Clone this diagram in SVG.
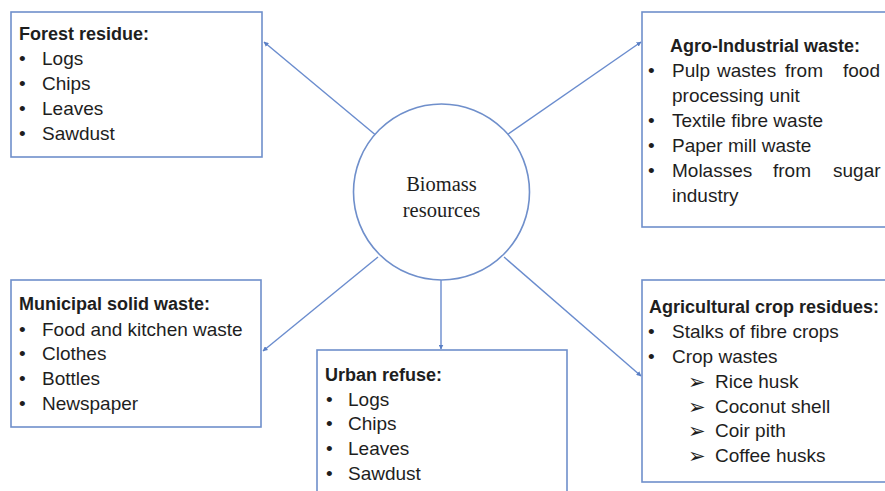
<svg xmlns="http://www.w3.org/2000/svg" width="885" height="491" viewBox="0 0 885 491">
<defs>
<marker id="ah" viewBox="0 0 10 10" refX="9" refY="5" markerWidth="5" markerHeight="5" orient="auto" markerUnits="userSpaceOnUse">
<path d="M0,0 L10,5 L0,10 z" fill="#5a7fc4"/>
</marker>
<style>
.box{fill:#fff;stroke:#6f8fcb;stroke-width:1.6}
.con{stroke:#6a8cce;stroke-width:1.4;fill:none;marker-end:url(#ah)}
text{font-family:"Liberation Sans",Arial,sans-serif;font-size:19px;fill:#1e1e1e}
.t{font-weight:bold;font-size:18px}
.c{font-family:"Liberation Serif","Times New Roman",serif;font-size:20.5px;text-anchor:middle}
.ar{font-family:"DejaVu Sans",sans-serif;font-size:21px}
</style>
</defs>
<rect width="885" height="491" fill="#fff"/>
<g id="connectors">
<line class="con" x1="378" y1="137" x2="264" y2="42"/>
<line class="con" x1="504" y1="137" x2="641" y2="42"/>
<line class="con" x1="378" y1="257" x2="263" y2="351"/>
<line class="con" x1="441" y1="280" x2="441" y2="349"/>
<line class="con" x1="504" y1="257" x2="641" y2="376"/>
</g>
<g id="center">
<circle cx="441.5" cy="192" r="88" fill="#fff" stroke="#6f8fcb" stroke-width="1.6"/>
<text class="c" x="441.5" y="191">Biomass</text>
<text class="c" x="441.5" y="217">resources</text>
</g>
<g id="forest">
<rect class="box" x="11" y="12" width="251" height="145"/>
<text class="t" x="19" y="40">Forest residue:</text>
<text x="19" y="65">•</text><text x="42" y="65">Logs</text>
<text x="19" y="90">•</text><text x="42" y="90">Chips</text>
<text x="19" y="115">•</text><text x="42" y="115">Leaves</text>
<text x="19" y="140">•</text><text x="42" y="140">Sawdust</text>
</g>
<g id="agro">
<rect class="box" x="642" y="12" width="260" height="215"/>
<text class="t" x="670" y="52">Agro-Industrial waste:</text>
<text x="648" y="77">•</text><text x="672" y="77">Pulp</text><text x="717" y="77">wastes</text><text x="785" y="77">from</text><text x="843" y="77">food</text>
<text x="672" y="102">processing unit</text>
<text x="648" y="127">•</text><text x="672" y="127">Textile fibre waste</text>
<text x="648" y="152">•</text><text x="672" y="152">Paper mill waste</text>
<text x="648" y="177">•</text><text x="672" y="177">Molasses</text><text x="773" y="177">from</text><text x="833" y="177">sugar</text>
<text x="672" y="202">industry</text>
</g>
<g id="municipal">
<rect class="box" x="11" y="280" width="250" height="147"/>
<text class="t" x="19" y="310">Municipal solid waste:</text>
<text x="19" y="336">•</text><text x="42" y="336">Food and kitchen waste</text>
<text x="19" y="360">•</text><text x="42" y="360">Clothes</text>
<text x="19" y="385">•</text><text x="42" y="385">Bottles</text>
<text x="19" y="410">•</text><text x="42" y="410">Newspaper</text>
</g>
<g id="urban">
<rect class="box" x="317" y="350" width="250" height="160"/>
<text class="t" x="325" y="381">Urban refuse:</text>
<text x="326" y="406">•</text><text x="348" y="406">Logs</text>
<text x="326" y="430">•</text><text x="348" y="430">Chips</text>
<text x="326" y="455">•</text><text x="348" y="455">Leaves</text>
<text x="326" y="480">•</text><text x="348" y="480">Sawdust</text>
</g>
<g id="agricultural">
<rect class="box" x="642" y="280" width="260" height="202"/>
<text class="t" x="649" y="313">Agricultural crop residues:</text>
<text x="648" y="338">•</text><text x="672" y="338">Stalks of fibre crops</text>
<text x="648" y="363">•</text><text x="672" y="363">Crop wastes</text>
<text class="ar" x="688" y="389">➢</text><text x="715" y="388">Rice husk</text>
<text class="ar" x="688" y="414">➢</text><text x="715" y="413">Coconut shell</text>
<text class="ar" x="688" y="438">➢</text><text x="715" y="437">Coir pith</text>
<text class="ar" x="688" y="463">➢</text><text x="715" y="462">Coffee husks</text>
</g>
</svg>
